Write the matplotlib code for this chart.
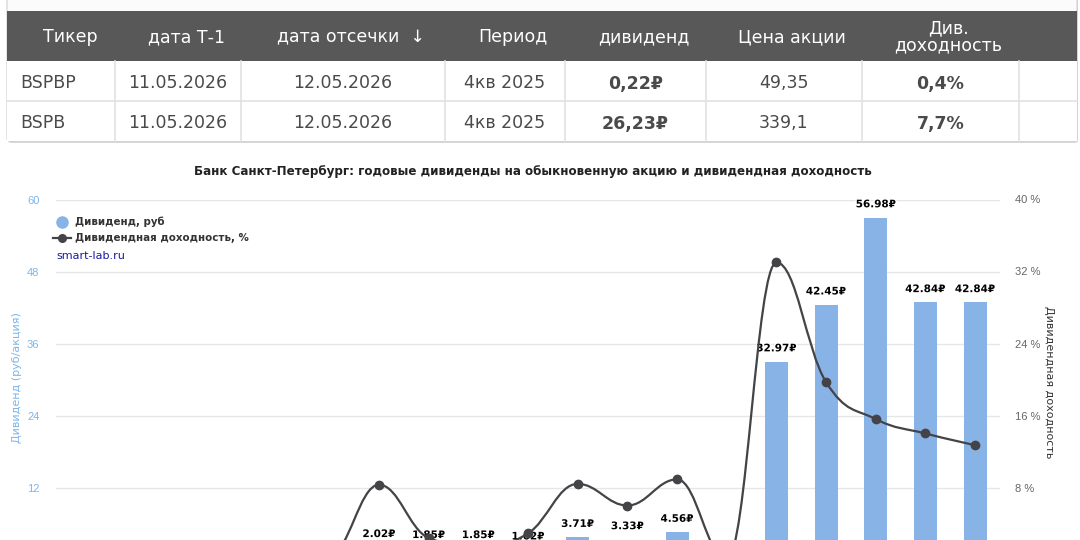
import matplotlib
matplotlib.use("Agg")
import matplotlib.pyplot as plt
from matplotlib.path import Path
from matplotlib.patches import PathPatch, Rectangle, FancyBboxPatch
from matplotlib.lines import Line2D
import matplotlib.patheffects as pe

plt.rcParams['font.family'] = ['DejaVu Sans']

# ---------------- data ----------------
table_header = ["Тикер", "дата Т-1", "дата отсечки  ↓", "Период", "дивиденд", "Цена акции", "Див.\nдоходность", ""]
table_rows = [
    ["BSPBP", "11.05.2026", "12.05.2026", "4кв 2025", "0,22₽", "49,35", "0,4%", ""],
    ["BSPB", "11.05.2026", "12.05.2026", "4кв 2025", "26,23₽", "339,1", "7,7%", ""],
]
years = [str(y) for y in range(2009, 2028)]
dividends = [0.08, 0.11, 0.11, 0.11, 0.11, 0.11, 2.02, 1.85, 1.85, 1.62,
             3.71, 3.33, 4.56, 0.0, 32.97, 42.45, 56.98, 42.84, 42.84]
yields = [0.8, 1.2, 1.0, 1.1, 0.9, 0.5, 8.3, 2.4, 1.5, 2.9,
          8.4, 6.0, 8.9, 0.0, 33.0, 19.7, 15.6, 14.0, 12.7]
left_ticks = [0, 12, 24, 36, 48, 60]
right_ticks = [0, 8, 16, 24, 32, 40]

title = "Банк Санкт-Петербург: годовые дивиденды на обыкновенную акцию и дивидендная доходность"

W, H = 1080, 540
fig = plt.figure(figsize=(W / 100, H / 100), dpi=100)
fig.patch.set_facecolor("white")


def fx(x):
    return x / W


def fy(y):
    return 1 - y / H


# ---------------- table ----------------
col_edges = [7, 115, 241, 445, 565, 706, 862, 1019, 1077]
tb_top, hdr_bot, row1_bot, tb_bot = 11, 61, 101, 141

fig.add_artist(FancyBboxPatch((fx(col_edges[0] + 1), fy(tb_bot + 2)), fx(col_edges[-1] - col_edges[0]),
                              (tb_bot + 22) / H, boxstyle="round,pad=0,rounding_size=0.004",
                              transform=fig.transFigure, facecolor="#d8d8d8", edgecolor="none", zorder=1))
fig.add_artist(FancyBboxPatch((fx(col_edges[0]), fy(tb_bot)), fx(col_edges[-1] - col_edges[0]),
                              (tb_bot + 20) / H, boxstyle="round,pad=0,rounding_size=0.004",
                              transform=fig.transFigure, facecolor="#fbfbfb", edgecolor="#d0d0d0",
                              linewidth=0.8, zorder=2))
fig.add_artist(Rectangle((fx(col_edges[0]), fy(tb_bot)), fx(col_edges[-1] - col_edges[0]),
                         (tb_bot - hdr_bot) / H, transform=fig.transFigure,
                         facecolor="white", edgecolor="none", zorder=2.5))
fig.add_artist(Rectangle((fx(col_edges[0]), fy(hdr_bot)), fx(col_edges[-1] - col_edges[0]),
                         (hdr_bot - tb_top) / H, transform=fig.transFigure,
                         facecolor="#585858", edgecolor="none", zorder=3))
for yy in [row1_bot]:
    fig.add_artist(Line2D([fx(col_edges[0]), fx(col_edges[-1])], [fy(yy), fy(yy)],
                          transform=fig.transFigure, color="#e2e2e2", lw=1.2, zorder=3))
for xx in col_edges[1:-1]:
    fig.add_artist(Line2D([fx(xx), fx(xx)], [fy(hdr_bot), fy(tb_bot)],
                          transform=fig.transFigure, color="#e2e2e2", lw=1.2, zorder=3))

for j, h in enumerate(table_header):
    if not h:
        continue
    cx = (col_edges[j] + col_edges[j + 1]) / 2
    if j == 0:
        fig.text(fx(col_edges[0] + 36), fy((tb_top + hdr_bot) / 2 + 1), h, color="white", fontsize=12.5,
                 ha="left", va="center", zorder=4)
    else:
        fig.text(fx(cx + 8), fy((tb_top + hdr_bot) / 2 + 1), h, color="white", fontsize=12.5,
                 ha="center", va="center", zorder=4, linespacing=0.95)

row_centers = [(hdr_bot + row1_bot) / 2, (row1_bot + tb_bot) / 2]
for i, row in enumerate(table_rows):
    for j, v in enumerate(row):
        if not v:
            continue
        bold = j in (4, 6)
        if j == 0:
            fig.text(fx(col_edges[0] + 13), fy(row_centers[i] + 2.5), v, color="#4a4a4a", fontsize=12.5,
                     ha="left", va="center", zorder=4)
        else:
            cx = (col_edges[j] + col_edges[j + 1]) / 2
            fig.text(fx(cx), fy(row_centers[i] + 2.5), v, color="#4a4a4a", fontsize=12.5,
                     fontweight="bold" if bold else "normal", ha="center", va="center", zorder=4)

# ---------------- chart ----------------
plot_left, plot_right = 56, 1000
plot_top, plot_bottom = 199.5, 559.5
ax = fig.add_axes([fx(plot_left), fy(plot_bottom), (plot_right - plot_left) / W,
                   (plot_bottom - plot_top) / H])
ax2 = ax.twinx()

x = list(range(len(years)))
ax.set_xlim(-0.5, len(years) - 0.5)
ax.set_ylim(0, 60)
ax2.set_ylim(0, 40)
ax.set_yticks(left_ticks)
ax2.set_yticks(right_ticks)
ax.set_yticklabels([str(t) for t in left_ticks], fontfamily="Liberation Sans")
ax2.set_yticklabels([f"{t} %" for t in right_ticks], fontfamily="Liberation Sans")
ax.set_xticks(x)
ax.set_xticklabels(years)

for a in (ax, ax2):
    for s in a.spines.values():
        s.set_visible(False)
    a.set_facecolor("none")
ax.tick_params(axis="y", length=0, pad=12, labelsize=8, labelcolor="#7cb5ec")
ax2.tick_params(axis="y", length=0, pad=11, labelsize=8, labelcolor="#666666")
ax.tick_params(axis="x", length=0, labelbottom=False)
ax.grid(axis="y", color="#e6e6e6", lw=1)
ax.set_axisbelow(True)

# axis titles
fig.text(fx(17), fy(378), "Дивиденд (руб/акция)", color="#7cb5ec", fontsize=8,
         rotation=90, ha="center", va="center")
fig.text(fx(1049), fy(382), "Дивидендная доходность", color="#333333", fontsize=8,
         rotation=270, ha="center", va="center")

ax.bar(x, dividends, width=0.465, color="#88b3e6", zorder=2)
for xi, v in zip(x, dividends):
    if v < 1:  # these labels fall below the visible part of the chart
        continue
    ax.annotate(f"{v:.2f}₽", (xi, v), xytext=(0, 6), textcoords="offset points",
                ha="center", va="bottom", fontsize=7.5, fontweight="bold", color="black",
                path_effects=[pe.withStroke(linewidth=2, foreground="white")], zorder=5)


# Highcharts-style spline
def spline_path(xs, ys, smoothing=1.5):
    n = len(xs)
    denom = smoothing + 1
    left = [None] * n
    right = [None] * n
    for i in range(1, n - 1):
        px, py = xs[i], ys[i]
        lx, ly = xs[i - 1], ys[i - 1]
        nx, ny = xs[i + 1], ys[i + 1]
        lcx = (smoothing * px + lx) / denom
        lcy = (smoothing * py + ly) / denom
        rcx = (smoothing * px + nx) / denom
        rcy = (smoothing * py + ny) / denom
        corr = (rcy - lcy) * (rcx - px) / (rcx - lcx) + py - rcy
        lcy += corr
        rcy += corr
        if lcy > ly and lcy > py:
            lcy = max(ly, py)
            rcy = 2 * py - lcy
        elif lcy < ly and lcy < py:
            lcy = min(ly, py)
            rcy = 2 * py - lcy
        if rcy > ny and rcy > py:
            rcy = max(ny, py)
            lcy = 2 * py - rcy
        elif rcy < ny and rcy < py:
            rcy = min(ny, py)
            lcy = 2 * py - rcy
        left[i] = (lcx, lcy)
        right[i] = (rcx, rcy)
    verts = [(xs[0], ys[0])]
    codes = [Path.MOVETO]
    for i in range(1, n):
        c1 = right[i - 1] if right[i - 1] else (xs[i - 1], ys[i - 1])
        c2 = left[i] if left[i] else (xs[i], ys[i])
        verts += [c1, c2, (xs[i], ys[i])]
        codes += [Path.CURVE4] * 3
    return Path(verts, codes)


line_color = "#434348"
ax2.add_patch(PathPatch(spline_path(x, yields), facecolor="none", edgecolor=line_color,
                        lw=1.6, zorder=3))
ax2.plot(x, yields, "o", color=line_color, markersize=6, zorder=4)

# title
fig.text(fx(533), fy(172), title, ha="center", va="center", fontsize=8.6, fontweight="bold",
         color="#222222")

# legend (custom)
fig.add_artist(Line2D([fx(62)], [fy(222)], marker="o", markersize=8, color="#88b3e6",
                      transform=fig.transFigure, linestyle="none"))
fig.text(fx(75), fy(222), "Дивиденд, руб", ha="left", va="center", fontsize=7.4,
         fontweight="bold", color="#333333")
fig.add_artist(Line2D([fx(53), fx(71)], [fy(238), fy(238)], color=line_color, lw=1.6,
                      transform=fig.transFigure))
fig.add_artist(Line2D([fx(62)], [fy(238)], marker="o", markersize=5.5, color=line_color,
                      transform=fig.transFigure, linestyle="none"))
fig.text(fx(75), fy(238), "Дивидендная доходность, %", ha="left", va="center", fontsize=7.4,
         fontweight="bold", color="#333333")
fig.text(fx(56), fy(256), "smart-lab.ru", ha="left", va="center", fontsize=8,
         color="#1a1aa6")

fig.savefig("out.png", dpi=100, facecolor="white")
